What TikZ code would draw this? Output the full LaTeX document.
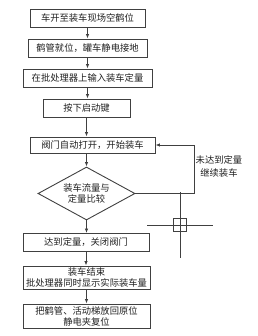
\documentclass[tikz,border=0pt]{standalone}
\usepackage{fontspec}
\newfontfamily\cjk{Noto Sans CJK SC}
\usetikzlibrary{shapes.geometric,arrows.meta}
\definecolor{ln}{HTML}{404040}
\definecolor{tx}{HTML}{202020}
\begin{document}
\begin{tikzpicture}[x=1pt,y=-1pt,
  box/.style={draw=ln,line width=0.9pt,inner sep=0pt,align=center,text=tx,
    font=\cjk\fontsize{9.3}{11}\selectfont},
  dia/.style={draw=ln,line width=0.9pt,shape=diamond,aspect=1.83,inner sep=0pt,
    minimum width=97pt,minimum height=53pt,align=center,text=tx,
    font=\cjk\fontsize{9.3}{11}\selectfont},
  conn/.style={draw=ln,line width=0.8pt,-{Latex[length=4.5pt,width=3.5pt]}},
  lbl/.style={inner sep=0pt,align=center,text=tx,font=\cjk\fontsize{9.3}{13}\selectfont},
  regmark/.style={draw=ln,line width=0.8pt}]
\useasboundingbox (0,0) rectangle (257,336);
\node[box,minimum width=115pt,minimum height=18pt] (b1) at (87.5,18) {车开至装车现场空鹤位};
\node[box,minimum width=119pt,minimum height=18pt] (b2) at (87.5,48) {鹤管就位，罐车静电接地};
\node[box,minimum width=129pt,minimum height=18pt] (b3) at (87.5,78) {在批处理器上输入装车定量};
\node[box,minimum width=87pt,minimum height=18pt] (b4) at (86.5,108) {按下启动键};
\node[box,minimum width=125pt,minimum height=16pt] (b5) at (92.5,145) {阀门自动打开，开始装车};
\node[dia] (d) at (86.5,193.5) {装车流量与\\定量比较};
\node[box,minimum width=126pt,minimum height=18pt] (b6) at (86,242.5) {达到定量，关闭阀门};
\node[box,minimum width=127pt,minimum height=23pt] (b7) at (86.5,277.5) {装车结束\\批处理器同时显示实际装车量};
\node[box,minimum width=127pt,minimum height=24pt] (b8) at (86.5,316) {把鹤管、活动梯放回原位\\静电夹复位};
\coordinate (lx) at (194,0);
\node[lbl,anchor=west] (lab) at (195.5,166) {未达到定量\\继续装车};
\draw[conn] (b1.south) -- (b1.south |- b2.north);
\draw[conn] (b2.south) -- (b2.south |- b3.north);
\draw[conn] (b3.south) -- (b3.south |- b4.north);
\draw[conn] (b4.south) -- (b4.south |- b5.north);
\draw[conn] (d.north |- b5.south) -- (d.north);
\draw[conn] (d.south) -- (d.south |- b6.north);
\draw[conn] (b6.south) -- (b6.south |- b7.north);
\draw[conn] (b7.south) -- (b7.south |- b8.north);
\draw[conn] (d.east) -- (d.east -| lx) -- (lx |- b5.east) -- (b5.east);
\draw[regmark] (180,192) -- (180,258);
\draw[regmark] (147,225) -- (213,225);
\draw[regmark] (173.5,218.5) rectangle (186.5,231.5);
\end{tikzpicture}
\end{document}
